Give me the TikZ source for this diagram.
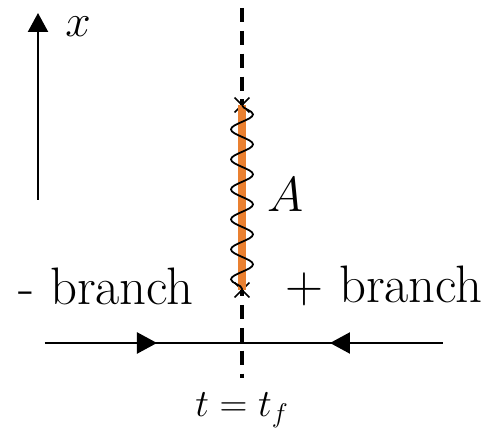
\documentclass[tikz,border=0pt]{standalone}
\usepackage{fix-cm}
\usetikzlibrary{arrows.meta, decorations.pathmorphing, shapes.misc}
\definecolor{photonorange}{RGB}{234,128,48}
\tikzset{
  vertex/.style={cross out, draw, line width=1pt, minimum size=0.26cm, inner sep=0pt},
  branchlabel/.style={font=\fontsize{30}{34}\selectfont},
}
\begin{document}
\begin{tikzpicture}[>={Triangle[length=0.4cm, width=0.42cm]}, line width=1.3pt]
\useasboundingbox (0,0) rectangle (9.8,8.74);
% time slice t = t_f
\coordinate (slicetop) at (4.84,8.58);
\coordinate (slicebot) at (4.84,1.18);
\draw[line width=2pt, dash pattern=on 8pt off 5pt] (slicetop) -- (slicebot);
\node[font=\fontsize{22}{26}\selectfont] (tf) at (4.84,0.54) {$t=t_f$};
% x axis
\coordinate (xbase) at (0.76,4.74);
\coordinate (xtip) at (0.76,8.48);
\draw[->, >={Triangle[length=0.38cm, width=0.4cm]}] (xbase) -- (xtip);
\node[font=\fontsize{26}{30}\selectfont] (xlabel) at (1.56,8.2) {$x$};
% field A between the two points
\node[vertex] (up) at (4.84,6.64) {};
\node[vertex] (down) at (4.84,2.94) {};
\draw[photonorange, line width=4pt] (up.center) -- (down.center);
\draw[line width=1pt, decorate, decoration={snake, amplitude=0.22cm, segment length=0.6cm}] (up.center) -- (down.center);
\node[font=\fontsize{28}{32}\selectfont] (A) at (5.72,4.84) {$A$};
% branches
\node[branchlabel] (minus) at (2.12,3.02) {- branch};
\node[branchlabel] (plus) at (7.68,3.02) {+ branch};
% contour
\coordinate (cleft) at (0.9,1.88);
\coordinate (cright) at (8.86,1.88);
\coordinate (fwd) at (3.14,1.88);
\coordinate (bwd) at (6.6,1.88);
\draw (cleft) -- (cright);
\draw[->] (cleft) -- (fwd);
\draw[->] (cright) -- (bwd);
\end{tikzpicture}
\end{document}
